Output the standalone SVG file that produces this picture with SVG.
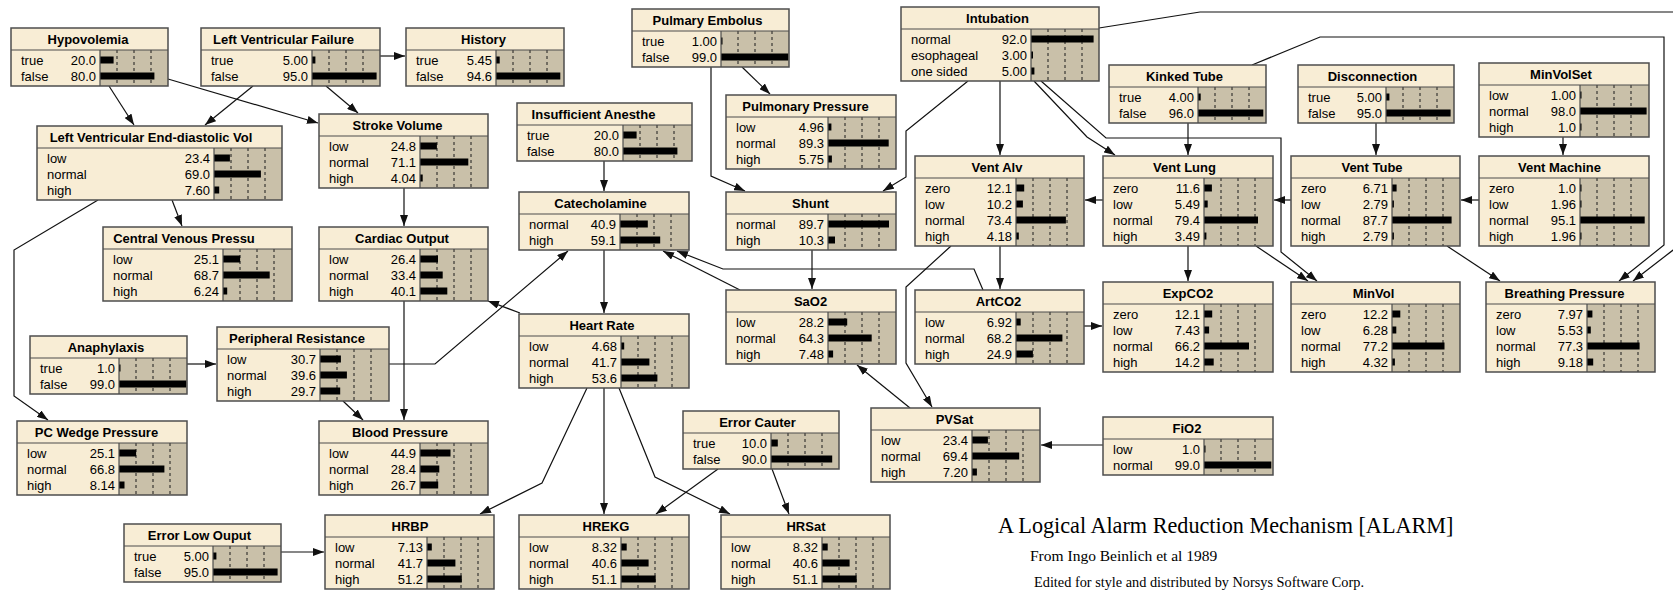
<svg xmlns="http://www.w3.org/2000/svg" width="1673" height="590" viewBox="0 0 1673 590">
<style>
.bx{fill:#f8edd5}
.ba{fill:#c9c0a9}
.fr{fill:none;stroke:#4d4d4d;stroke-width:1.5}
.ln{fill:none;stroke:#4d4d4d;stroke-width:1.2}
.ds{fill:none;stroke:#1a1a1a;stroke-width:1;stroke-dasharray:3 3}
.b{fill:#000}
text{font-family:"Liberation Sans",Arial,sans-serif;font-size:13px;fill:#000}
.t{font-weight:bold;text-anchor:middle}
.v{text-anchor:end}
.e{fill:none;stroke:#111;stroke-width:1.2;marker-end:url(#ah)}
.cap{font-family:"Liberation Serif","Times New Roman",serif}
</style>
<defs>
<marker id="ah" markerUnits="userSpaceOnUse" markerWidth="11" markerHeight="8" refX="11" refY="4" orient="auto"><path d="M0,0L11,4L0,8z" fill="#111"/></marker>
</defs>
<rect width="1673" height="590" fill="#fff"/>
<g id="connectors">
<path class="e" d="M109,86L134,125"/>
<path class="e" d="M168,79L318,123"/>
<path class="e" d="M253,86L205,125"/>
<path class="e" d="M326,86L358,113"/>
<path class="e" d="M380,56L405,56"/>
<path class="e" d="M172,200L182,226"/>
<path class="e" d="M98,200L14,250L14,396L48,420"/>
<path class="e" d="M404,188L404,226"/>
<path class="e" d="M404,301L404,420"/>
<path class="e" d="M343,401L363,420"/>
<path class="e" d="M187,364L216,364"/>
<path class="e" d="M389,364L435,364L568,251"/>
<path class="e" d="M520,313L488,301"/>
<path class="e" d="M604,161L604,191"/>
<path class="e" d="M604,250L604,313"/>
<path class="e" d="M587,388L542,483L480,514"/>
<path class="e" d="M604,388L604,514"/>
<path class="e" d="M619,388L655,477L730,514"/>
<path class="e" d="M718,469L656,514"/>
<path class="e" d="M772,469L789,514"/>
<path class="e" d="M281,552L324,552"/>
<path class="e" d="M742,67L770,94"/>
<path class="e" d="M711,67L711,176L745,191"/>
<path class="e" d="M968,81L906,131L906,177L883,191"/>
<path class="e" d="M1000,81L1000,155"/>
<path class="e" d="M1034,81L1087,137L1115,155"/>
<path class="e" d="M1041,81L1106,138L1281,138L1281,252L1317,281"/>
<path class="e" d="M1099,28L1200,12L1690,12L1690,237L1633,281"/>
<path class="e" d="M1188,123L1188,155"/>
<path class="e" d="M1252,65L1320,37L1664,37L1664,245L1619,281"/>
<path class="e" d="M1376,123L1376,155"/>
<path class="e" d="M1563,137L1563,155"/>
<path class="e" d="M1479,200L1461,200"/>
<path class="e" d="M1291,200L1274,200"/>
<path class="e" d="M1447,246L1500,281"/>
<path class="e" d="M1103,200L1085,200"/>
<path class="e" d="M1188,246L1188,281"/>
<path class="e" d="M1256,246L1308,281"/>
<path class="e" d="M1000,246L1000,289"/>
<path class="e" d="M951,246L906,287L906,363L932,407"/>
<path class="e" d="M1084,326L1102,326"/>
<path class="e" d="M983,290L974,269L723,269L677,251"/>
<path class="e" d="M740,290L663,251"/>
<path class="e" d="M812,250L812,289"/>
<path class="e" d="M910,408L857,365"/>
<path class="e" d="M1103,445L1041,445"/>
</g>

<g id="hypovolemia">
<rect class="bx" x="11" y="28" width="157" height="58"/><rect class="ba" x="100" y="50" width="68" height="36"/>
<path class="ds" d="M117,50V86M134,50V86M151,50V86"/>
<rect class="b" x="100" y="56.5" width="13.6" height="7"/><rect class="b" x="100" y="72.5" width="54.4" height="7"/>
<path class="ln" d="M11,50H168M100,50V86"/><rect class="fr" x="11" y="28" width="157" height="58"/>
<text class="t" x="88" y="44">Hypovolemia</text>
<text x="21" y="64.5">true</text><text class="v" x="96" y="64.5">20.0</text>
<text x="21" y="80.5">false</text><text class="v" x="96" y="80.5">80.0</text>
</g>

<g id="lvfailure">
<rect class="bx" x="201" y="28" width="179" height="58"/><rect class="ba" x="312" y="50" width="68" height="36"/>
<path class="ds" d="M329,50V86M346,50V86M363,50V86"/>
<rect class="b" x="312" y="56.5" width="3.4" height="7"/><rect class="b" x="312" y="72.5" width="64.6" height="7"/>
<path class="ln" d="M201,50H380M312,50V86"/><rect class="fr" x="201" y="28" width="179" height="58"/>
<text class="t" x="283.5" y="44">Left Ventricular Failure</text>
<text x="211" y="64.5">true</text><text class="v" x="308" y="64.5">5.00</text>
<text x="211" y="80.5">false</text><text class="v" x="308" y="80.5">95.0</text>
</g>

<g id="history">
<rect class="bx" x="406" y="28" width="158" height="58"/><rect class="ba" x="496" y="50" width="68" height="36"/>
<path class="ds" d="M513,50V86M530,50V86M547,50V86"/>
<rect class="b" x="496" y="56.5" width="3.7" height="7"/><rect class="b" x="496" y="72.5" width="64.3" height="7"/>
<path class="ln" d="M406,50H564M496,50V86"/><rect class="fr" x="406" y="28" width="158" height="58"/>
<text class="t" x="483.5" y="44">History</text>
<text x="416" y="64.5">true</text><text class="v" x="492" y="64.5">5.45</text>
<text x="416" y="80.5">false</text><text class="v" x="492" y="80.5">94.6</text>
</g>

<g id="pulmembolus">
<rect class="bx" x="632" y="9" width="157" height="58"/><rect class="ba" x="721" y="31" width="68" height="36"/>
<path class="ds" d="M738,31V67M755,31V67M772,31V67"/>
<rect class="b" x="721" y="37.5" width="1.5" height="7"/><rect class="b" x="721" y="53.5" width="67.3" height="7"/>
<path class="ln" d="M632,31H789M721,31V67"/><rect class="fr" x="632" y="9" width="157" height="58"/>
<text class="t" x="707.5" y="25">Pulmary Embolus</text>
<text x="642" y="45.5">true</text><text class="v" x="717" y="45.5">1.00</text>
<text x="642" y="61.5">false</text><text class="v" x="717" y="61.5">99.0</text>
</g>

<g id="intubation">
<rect class="bx" x="901" y="7" width="198" height="74"/><rect class="ba" x="1031" y="29" width="68" height="52"/>
<path class="ds" d="M1048,29V81M1065,29V81M1082,29V81"/>
<rect class="b" x="1031" y="35.5" width="62.6" height="7"/><rect class="b" x="1031" y="51.5" width="2" height="7"/><rect class="b" x="1031" y="67.5" width="3.4" height="7"/>
<path class="ln" d="M901,29H1099M1031,29V81"/><rect class="fr" x="901" y="7" width="198" height="74"/>
<text class="t" x="997.5" y="23">Intubation</text>
<text x="911" y="43.5">normal</text><text class="v" x="1027" y="43.5">92.0</text>
<text x="911" y="59.5">esophageal</text><text class="v" x="1027" y="59.5">3.00</text>
<text x="911" y="75.5">one sided</text><text class="v" x="1027" y="75.5">5.00</text>
</g>

<g id="kinkedtube">
<rect class="bx" x="1109" y="65" width="157" height="58"/><rect class="ba" x="1198" y="87" width="68" height="36"/>
<path class="ds" d="M1215,87V123M1232,87V123M1249,87V123"/>
<rect class="b" x="1198" y="93.5" width="2.7" height="7"/><rect class="b" x="1198" y="109.5" width="65.3" height="7"/>
<path class="ln" d="M1109,87H1266M1198,87V123"/><rect class="fr" x="1109" y="65" width="157" height="58"/>
<text class="t" x="1184.5" y="81">Kinked Tube</text>
<text x="1119" y="101.5">true</text><text class="v" x="1194" y="101.5">4.00</text>
<text x="1119" y="117.5">false</text><text class="v" x="1194" y="117.5">96.0</text>
</g>

<g id="disconnection">
<rect class="bx" x="1298" y="65" width="156" height="58"/><rect class="ba" x="1386" y="87" width="68" height="36"/>
<path class="ds" d="M1403,87V123M1420,87V123M1437,87V123"/>
<rect class="b" x="1386" y="93.5" width="3.4" height="7"/><rect class="b" x="1386" y="109.5" width="64.6" height="7"/>
<path class="ln" d="M1298,87H1454M1386,87V123"/><rect class="fr" x="1298" y="65" width="156" height="58"/>
<text class="t" x="1372.5" y="81">Disconnection</text>
<text x="1308" y="101.5">true</text><text class="v" x="1382" y="101.5">5.00</text>
<text x="1308" y="117.5">false</text><text class="v" x="1382" y="117.5">95.0</text>
</g>

<g id="minvolset">
<rect class="bx" x="1479" y="63" width="170" height="74"/><rect class="ba" x="1580" y="85" width="69" height="52"/>
<path class="ds" d="M1597,85V137M1614,85V137M1631,85V137"/>
<rect class="b" x="1580" y="91.5" width="1.5" height="7"/><rect class="b" x="1580" y="107.5" width="66.6" height="7"/><rect class="b" x="1580" y="123.5" width="1.5" height="7"/>
<path class="ln" d="M1479,85H1649M1580,85V137"/><rect class="fr" x="1479" y="63" width="170" height="74"/>
<text class="t" x="1561" y="79">MinVolSet</text>
<text x="1489" y="99.5">low</text><text class="v" x="1576" y="99.5">1.00</text>
<text x="1489" y="115.5">normal</text><text class="v" x="1576" y="115.5">98.0</text>
<text x="1489" y="131.5">high</text><text class="v" x="1576" y="131.5">1.0</text>
</g>

<g id="lvedvolume">
<rect class="bx" x="37" y="126" width="245" height="74"/><rect class="ba" x="214" y="148" width="68" height="52"/>
<path class="ds" d="M231,148V200M248,148V200M265,148V200"/>
<rect class="b" x="214" y="154.5" width="15.9" height="7"/><rect class="b" x="214" y="170.5" width="46.9" height="7"/><rect class="b" x="214" y="186.5" width="5.2" height="7"/>
<path class="ln" d="M37,148H282M214,148V200"/><rect class="fr" x="37" y="126" width="245" height="74"/>
<text class="t" x="151" y="142">Left Ventricular End-diastolic Vol</text>
<text x="47" y="162.5">low</text><text class="v" x="210" y="162.5">23.4</text>
<text x="47" y="178.5">normal</text><text class="v" x="210" y="178.5">69.0</text>
<text x="47" y="194.5">high</text><text class="v" x="210" y="194.5">7.60</text>
</g>

<g id="strokevolume">
<rect class="bx" x="319" y="114" width="169" height="74"/><rect class="ba" x="420" y="136" width="68" height="52"/>
<path class="ds" d="M437,136V188M454,136V188M471,136V188"/>
<rect class="b" x="420" y="142.5" width="16.9" height="7"/><rect class="b" x="420" y="158.5" width="48.3" height="7"/><rect class="b" x="420" y="174.5" width="2.7" height="7"/>
<path class="ln" d="M319,136H488M420,136V188"/><rect class="fr" x="319" y="114" width="169" height="74"/>
<text class="t" x="397.5" y="130">Stroke Volume</text>
<text x="329" y="150.5">low</text><text class="v" x="416" y="150.5">24.8</text>
<text x="329" y="166.5">normal</text><text class="v" x="416" y="166.5">71.1</text>
<text x="329" y="182.5">high</text><text class="v" x="416" y="182.5">4.04</text>
</g>

<g id="insuffanesth">
<rect class="bx" x="517" y="103" width="175" height="58"/><rect class="ba" x="623" y="125" width="69" height="36"/>
<path class="ds" d="M640,125V161M657,125V161M674,125V161"/>
<rect class="b" x="623" y="131.5" width="13.6" height="7"/><rect class="b" x="623" y="147.5" width="54.4" height="7"/>
<path class="ln" d="M517,125H692M623,125V161"/><rect class="fr" x="517" y="103" width="175" height="58"/>
<text class="t" x="593.5" y="119">Insufficient Anesthe</text>
<text x="527" y="139.5">true</text><text class="v" x="619" y="139.5">20.0</text>
<text x="527" y="155.5">false</text><text class="v" x="619" y="155.5">80.0</text>
</g>

<g id="pulmpressure">
<rect class="bx" x="726" y="95" width="170" height="74"/><rect class="ba" x="828" y="117" width="68" height="52"/>
<path class="ds" d="M845,117V169M862,117V169M879,117V169"/>
<rect class="b" x="828" y="123.5" width="3.4" height="7"/><rect class="b" x="828" y="139.5" width="60.7" height="7"/><rect class="b" x="828" y="155.5" width="3.9" height="7"/>
<path class="ln" d="M726,117H896M828,117V169"/><rect class="fr" x="726" y="95" width="170" height="74"/>
<text class="t" x="805.5" y="111">Pulmonary Pressure</text>
<text x="736" y="131.5">low</text><text class="v" x="824" y="131.5">4.96</text>
<text x="736" y="147.5">normal</text><text class="v" x="824" y="147.5">89.3</text>
<text x="736" y="163.5">high</text><text class="v" x="824" y="163.5">5.75</text>
</g>

<g id="shunt">
<rect class="bx" x="726" y="192" width="170" height="58"/><rect class="ba" x="828" y="214" width="68" height="36"/>
<path class="ds" d="M845,214V250M862,214V250M879,214V250"/>
<rect class="b" x="828" y="220.5" width="61" height="7"/><rect class="b" x="828" y="236.5" width="7" height="7"/>
<path class="ln" d="M726,214H896M828,214V250"/><rect class="fr" x="726" y="192" width="170" height="58"/>
<text class="t" x="810.5" y="208">Shunt</text>
<text x="736" y="228.5">normal</text><text class="v" x="824" y="228.5">89.7</text>
<text x="736" y="244.5">high</text><text class="v" x="824" y="244.5">10.3</text>
</g>

<g id="catecholamine">
<rect class="bx" x="519" y="192" width="170" height="58"/><rect class="ba" x="620" y="214" width="69" height="36"/>
<path class="ds" d="M637,214V250M654,214V250M671,214V250"/>
<rect class="b" x="620" y="220.5" width="27.8" height="7"/><rect class="b" x="620" y="236.5" width="40.2" height="7"/>
<path class="ln" d="M519,214H689M620,214V250"/><rect class="fr" x="519" y="192" width="170" height="58"/>
<text class="t" x="600.5" y="208">Catecholamine</text>
<text x="529" y="228.5">normal</text><text class="v" x="616" y="228.5">40.9</text>
<text x="529" y="244.5">high</text><text class="v" x="616" y="244.5">59.1</text>
</g>

<g id="cvp">
<rect class="bx" x="103" y="227" width="189" height="74"/><rect class="ba" x="223" y="249" width="69" height="52"/>
<path class="ds" d="M240,249V301M257,249V301M274,249V301"/>
<rect class="b" x="223" y="255.5" width="17.1" height="7"/><rect class="b" x="223" y="271.5" width="46.7" height="7"/><rect class="b" x="223" y="287.5" width="4.2" height="7"/>
<path class="ln" d="M103,249H292M223,249V301"/><rect class="fr" x="103" y="227" width="189" height="74"/>
<text class="t" x="184" y="243">Central Venous Pressu</text>
<text x="113" y="263.5">low</text><text class="v" x="219" y="263.5">25.1</text>
<text x="113" y="279.5">normal</text><text class="v" x="219" y="279.5">68.7</text>
<text x="113" y="295.5">high</text><text class="v" x="219" y="295.5">6.24</text>
</g>

<g id="cardiacoutput">
<rect class="bx" x="319" y="227" width="169" height="74"/><rect class="ba" x="420" y="249" width="68" height="52"/>
<path class="ds" d="M437,249V301M454,249V301M471,249V301"/>
<rect class="b" x="420" y="255.5" width="18" height="7"/><rect class="b" x="420" y="271.5" width="22.7" height="7"/><rect class="b" x="420" y="287.5" width="27.3" height="7"/>
<path class="ln" d="M319,249H488M420,249V301"/><rect class="fr" x="319" y="227" width="169" height="74"/>
<text class="t" x="402" y="243">Cardiac Output</text>
<text x="329" y="263.5">low</text><text class="v" x="416" y="263.5">26.4</text>
<text x="329" y="279.5">normal</text><text class="v" x="416" y="279.5">33.4</text>
<text x="329" y="295.5">high</text><text class="v" x="416" y="295.5">40.1</text>
</g>

<g id="ventalv">
<rect class="bx" x="915" y="156" width="169" height="90"/><rect class="ba" x="1016" y="178" width="68" height="68"/>
<path class="ds" d="M1033,178V246M1050,178V246M1067,178V246"/>
<rect class="b" x="1016" y="184.5" width="8.2" height="7"/><rect class="b" x="1016" y="200.5" width="6.9" height="7"/><rect class="b" x="1016" y="216.5" width="49.9" height="7"/><rect class="b" x="1016" y="232.5" width="2.8" height="7"/>
<path class="ln" d="M915,178H1084M1016,178V246"/><rect class="fr" x="915" y="156" width="169" height="90"/>
<text class="t" x="997" y="172">Vent Alv</text>
<text x="925" y="192.5">zero</text><text class="v" x="1012" y="192.5">12.1</text>
<text x="925" y="208.5">low</text><text class="v" x="1012" y="208.5">10.2</text>
<text x="925" y="224.5">normal</text><text class="v" x="1012" y="224.5">73.4</text>
<text x="925" y="240.5">high</text><text class="v" x="1012" y="240.5">4.18</text>
</g>

<g id="ventlung">
<rect class="bx" x="1103" y="156" width="170" height="90"/><rect class="ba" x="1204" y="178" width="69" height="68"/>
<path class="ds" d="M1221,178V246M1238,178V246M1255,178V246"/>
<rect class="b" x="1204" y="184.5" width="7.9" height="7"/><rect class="b" x="1204" y="200.5" width="3.7" height="7"/><rect class="b" x="1204" y="216.5" width="54" height="7"/><rect class="b" x="1204" y="232.5" width="2.4" height="7"/>
<path class="ln" d="M1103,178H1273M1204,178V246"/><rect class="fr" x="1103" y="156" width="170" height="90"/>
<text class="t" x="1184.5" y="172">Vent Lung</text>
<text x="1113" y="192.5">zero</text><text class="v" x="1200" y="192.5">11.6</text>
<text x="1113" y="208.5">low</text><text class="v" x="1200" y="208.5">5.49</text>
<text x="1113" y="224.5">normal</text><text class="v" x="1200" y="224.5">79.4</text>
<text x="1113" y="240.5">high</text><text class="v" x="1200" y="240.5">3.49</text>
</g>

<g id="venttube">
<rect class="bx" x="1291" y="156" width="169" height="90"/><rect class="ba" x="1392" y="178" width="68" height="68"/>
<path class="ds" d="M1409,178V246M1426,178V246M1443,178V246"/>
<rect class="b" x="1392" y="184.5" width="4.6" height="7"/><rect class="b" x="1392" y="200.5" width="1.9" height="7"/><rect class="b" x="1392" y="216.5" width="59.6" height="7"/><rect class="b" x="1392" y="232.5" width="1.9" height="7"/>
<path class="ln" d="M1291,178H1460M1392,178V246"/><rect class="fr" x="1291" y="156" width="169" height="90"/>
<text class="t" x="1372" y="172">Vent Tube</text>
<text x="1301" y="192.5">zero</text><text class="v" x="1388" y="192.5">6.71</text>
<text x="1301" y="208.5">low</text><text class="v" x="1388" y="208.5">2.79</text>
<text x="1301" y="224.5">normal</text><text class="v" x="1388" y="224.5">87.7</text>
<text x="1301" y="240.5">high</text><text class="v" x="1388" y="240.5">2.79</text>
</g>

<g id="ventmachine">
<rect class="bx" x="1479" y="156" width="170" height="90"/><rect class="ba" x="1580" y="178" width="69" height="68"/>
<path class="ds" d="M1597,178V246M1614,178V246M1631,178V246"/>
<rect class="b" x="1580" y="184.5" width="1.5" height="7"/><rect class="b" x="1580" y="200.5" width="1.5" height="7"/><rect class="b" x="1580" y="216.5" width="64.7" height="7"/><rect class="b" x="1580" y="232.5" width="1.5" height="7"/>
<path class="ln" d="M1479,178H1649M1580,178V246"/><rect class="fr" x="1479" y="156" width="170" height="90"/>
<text class="t" x="1559.5" y="172">Vent Machine</text>
<text x="1489" y="192.5">zero</text><text class="v" x="1576" y="192.5">1.0</text>
<text x="1489" y="208.5">low</text><text class="v" x="1576" y="208.5">1.96</text>
<text x="1489" y="224.5">normal</text><text class="v" x="1576" y="224.5">95.1</text>
<text x="1489" y="240.5">high</text><text class="v" x="1576" y="240.5">1.96</text>
</g>

<g id="sao2">
<rect class="bx" x="726" y="290" width="170" height="74"/><rect class="ba" x="828" y="312" width="68" height="52"/>
<path class="ds" d="M845,312V364M862,312V364M879,312V364"/>
<rect class="b" x="828" y="318.5" width="19.2" height="7"/><rect class="b" x="828" y="334.5" width="43.7" height="7"/><rect class="b" x="828" y="350.5" width="5.1" height="7"/>
<path class="ln" d="M726,312H896M828,312V364"/><rect class="fr" x="726" y="290" width="170" height="74"/>
<text class="t" x="810.5" y="306">SaO2</text>
<text x="736" y="326.5">low</text><text class="v" x="824" y="326.5">28.2</text>
<text x="736" y="342.5">normal</text><text class="v" x="824" y="342.5">64.3</text>
<text x="736" y="358.5">high</text><text class="v" x="824" y="358.5">7.48</text>
</g>

<g id="artco2">
<rect class="bx" x="915" y="290" width="169" height="74"/><rect class="ba" x="1016" y="312" width="68" height="52"/>
<path class="ds" d="M1033,312V364M1050,312V364M1067,312V364"/>
<rect class="b" x="1016" y="318.5" width="4.7" height="7"/><rect class="b" x="1016" y="334.5" width="46.4" height="7"/><rect class="b" x="1016" y="350.5" width="16.9" height="7"/>
<path class="ln" d="M915,312H1084M1016,312V364"/><rect class="fr" x="915" y="290" width="169" height="74"/>
<text class="t" x="998.5" y="306">ArtCO2</text>
<text x="925" y="326.5">low</text><text class="v" x="1012" y="326.5">6.92</text>
<text x="925" y="342.5">normal</text><text class="v" x="1012" y="342.5">68.2</text>
<text x="925" y="358.5">high</text><text class="v" x="1012" y="358.5">24.9</text>
</g>

<g id="expco2">
<rect class="bx" x="1103" y="282" width="170" height="90"/><rect class="ba" x="1204" y="304" width="69" height="68"/>
<path class="ds" d="M1221,304V372M1238,304V372M1255,304V372"/>
<rect class="b" x="1204" y="310.5" width="8.2" height="7"/><rect class="b" x="1204" y="326.5" width="5.1" height="7"/><rect class="b" x="1204" y="342.5" width="45" height="7"/><rect class="b" x="1204" y="358.5" width="9.7" height="7"/>
<path class="ln" d="M1103,304H1273M1204,304V372"/><rect class="fr" x="1103" y="282" width="170" height="90"/>
<text class="t" x="1188" y="298">ExpCO2</text>
<text x="1113" y="318.5">zero</text><text class="v" x="1200" y="318.5">12.1</text>
<text x="1113" y="334.5">low</text><text class="v" x="1200" y="334.5">7.43</text>
<text x="1113" y="350.5">normal</text><text class="v" x="1200" y="350.5">66.2</text>
<text x="1113" y="366.5">high</text><text class="v" x="1200" y="366.5">14.2</text>
</g>

<g id="minvol">
<rect class="bx" x="1291" y="282" width="169" height="90"/><rect class="ba" x="1392" y="304" width="68" height="68"/>
<path class="ds" d="M1409,304V372M1426,304V372M1443,304V372"/>
<rect class="b" x="1392" y="310.5" width="8.3" height="7"/><rect class="b" x="1392" y="326.5" width="4.3" height="7"/><rect class="b" x="1392" y="342.5" width="52.5" height="7"/><rect class="b" x="1392" y="358.5" width="2.9" height="7"/>
<path class="ln" d="M1291,304H1460M1392,304V372"/><rect class="fr" x="1291" y="282" width="169" height="90"/>
<text class="t" x="1373.5" y="298">MinVol</text>
<text x="1301" y="318.5">zero</text><text class="v" x="1388" y="318.5">12.2</text>
<text x="1301" y="334.5">low</text><text class="v" x="1388" y="334.5">6.28</text>
<text x="1301" y="350.5">normal</text><text class="v" x="1388" y="350.5">77.2</text>
<text x="1301" y="366.5">high</text><text class="v" x="1388" y="366.5">4.32</text>
</g>

<g id="breathingpressure">
<rect class="bx" x="1486" y="282" width="169" height="90"/><rect class="ba" x="1587" y="304" width="68" height="68"/>
<path class="ds" d="M1604,304V372M1621,304V372M1638,304V372"/>
<rect class="b" x="1587" y="310.5" width="5.4" height="7"/><rect class="b" x="1587" y="326.5" width="3.8" height="7"/><rect class="b" x="1587" y="342.5" width="52.6" height="7"/><rect class="b" x="1587" y="358.5" width="6.2" height="7"/>
<path class="ln" d="M1486,304H1655M1587,304V372"/><rect class="fr" x="1486" y="282" width="169" height="90"/>
<text class="t" x="1564.5" y="298">Breathing Pressure</text>
<text x="1496" y="318.5">zero</text><text class="v" x="1583" y="318.5">7.97</text>
<text x="1496" y="334.5">low</text><text class="v" x="1583" y="334.5">5.53</text>
<text x="1496" y="350.5">normal</text><text class="v" x="1583" y="350.5">77.3</text>
<text x="1496" y="366.5">high</text><text class="v" x="1583" y="366.5">9.18</text>
</g>

<g id="heartrate">
<rect class="bx" x="519" y="314" width="170" height="74"/><rect class="ba" x="621" y="336" width="68" height="52"/>
<path class="ds" d="M638,336V388M655,336V388M672,336V388"/>
<rect class="b" x="621" y="342.5" width="3.2" height="7"/><rect class="b" x="621" y="358.5" width="28.4" height="7"/><rect class="b" x="621" y="374.5" width="36.4" height="7"/>
<path class="ln" d="M519,336H689M621,336V388"/><rect class="fr" x="519" y="314" width="170" height="74"/>
<text class="t" x="602" y="330">Heart Rate</text>
<text x="529" y="350.5">low</text><text class="v" x="617" y="350.5">4.68</text>
<text x="529" y="366.5">normal</text><text class="v" x="617" y="366.5">41.7</text>
<text x="529" y="382.5">high</text><text class="v" x="617" y="382.5">53.6</text>
</g>

<g id="anaphylaxis">
<rect class="bx" x="30" y="336" width="157" height="58"/><rect class="ba" x="119" y="358" width="68" height="36"/>
<path class="ds" d="M136,358V394M153,358V394M170,358V394"/>
<rect class="b" x="119" y="364.5" width="1.5" height="7"/><rect class="b" x="119" y="380.5" width="67.3" height="7"/>
<path class="ln" d="M30,358H187M119,358V394"/><rect class="fr" x="30" y="336" width="157" height="58"/>
<text class="t" x="106" y="352">Anaphylaxis</text>
<text x="40" y="372.5">true</text><text class="v" x="115" y="372.5">1.0</text>
<text x="40" y="388.5">false</text><text class="v" x="115" y="388.5">99.0</text>
</g>

<g id="periphresistance">
<rect class="bx" x="217" y="327" width="172" height="74"/><rect class="ba" x="320" y="349" width="69" height="52"/>
<path class="ds" d="M337,349V401M354,349V401M371,349V401"/>
<rect class="b" x="320" y="355.5" width="20.9" height="7"/><rect class="b" x="320" y="371.5" width="26.9" height="7"/><rect class="b" x="320" y="387.5" width="20.2" height="7"/>
<path class="ln" d="M217,349H389M320,349V401"/><rect class="fr" x="217" y="327" width="172" height="74"/>
<text class="t" x="297" y="343">Peripheral Resistance</text>
<text x="227" y="363.5">low</text><text class="v" x="316" y="363.5">30.7</text>
<text x="227" y="379.5">normal</text><text class="v" x="316" y="379.5">39.6</text>
<text x="227" y="395.5">high</text><text class="v" x="316" y="395.5">29.7</text>
</g>

<g id="pvsat">
<rect class="bx" x="871" y="408" width="169" height="74"/><rect class="ba" x="972" y="430" width="68" height="52"/>
<path class="ds" d="M989,430V482M1006,430V482M1023,430V482"/>
<rect class="b" x="972" y="436.5" width="15.9" height="7"/><rect class="b" x="972" y="452.5" width="47.2" height="7"/><rect class="b" x="972" y="468.5" width="4.9" height="7"/>
<path class="ln" d="M871,430H1040M972,430V482"/><rect class="fr" x="871" y="408" width="169" height="74"/>
<text class="t" x="954.5" y="424">PVSat</text>
<text x="881" y="444.5">low</text><text class="v" x="968" y="444.5">23.4</text>
<text x="881" y="460.5">normal</text><text class="v" x="968" y="460.5">69.4</text>
<text x="881" y="476.5">high</text><text class="v" x="968" y="476.5">7.20</text>
</g>

<g id="errorcauter">
<rect class="bx" x="683" y="411" width="156" height="58"/><rect class="ba" x="771" y="433" width="68" height="36"/>
<path class="ds" d="M788,433V469M805,433V469M822,433V469"/>
<rect class="b" x="771" y="439.5" width="6.8" height="7"/><rect class="b" x="771" y="455.5" width="61.2" height="7"/>
<path class="ln" d="M683,433H839M771,433V469"/><rect class="fr" x="683" y="411" width="156" height="58"/>
<text class="t" x="757.5" y="427">Error Cauter</text>
<text x="693" y="447.5">true</text><text class="v" x="767" y="447.5">10.0</text>
<text x="693" y="463.5">false</text><text class="v" x="767" y="463.5">90.0</text>
</g>

<g id="fio2">
<rect class="bx" x="1103" y="417" width="170" height="58"/><rect class="ba" x="1204" y="439" width="69" height="36"/>
<path class="ds" d="M1221,439V475M1238,439V475M1255,439V475"/>
<rect class="b" x="1204" y="445.5" width="1.5" height="7"/><rect class="b" x="1204" y="461.5" width="67.3" height="7"/>
<path class="ln" d="M1103,439H1273M1204,439V475"/><rect class="fr" x="1103" y="417" width="170" height="58"/>
<text class="t" x="1187" y="433">FiO2</text>
<text x="1113" y="453.5">low</text><text class="v" x="1200" y="453.5">1.0</text>
<text x="1113" y="469.5">normal</text><text class="v" x="1200" y="469.5">99.0</text>
</g>

<g id="pcwp">
<rect class="bx" x="17" y="421" width="170" height="74"/><rect class="ba" x="119" y="443" width="68" height="52"/>
<path class="ds" d="M136,443V495M153,443V495M170,443V495"/>
<rect class="b" x="119" y="449.5" width="17.1" height="7"/><rect class="b" x="119" y="465.5" width="45.4" height="7"/><rect class="b" x="119" y="481.5" width="5.5" height="7"/>
<path class="ln" d="M17,443H187M119,443V495"/><rect class="fr" x="17" y="421" width="170" height="74"/>
<text class="t" x="96.5" y="437">PC Wedge Pressure</text>
<text x="27" y="457.5">low</text><text class="v" x="115" y="457.5">25.1</text>
<text x="27" y="473.5">normal</text><text class="v" x="115" y="473.5">66.8</text>
<text x="27" y="489.5">high</text><text class="v" x="115" y="489.5">8.14</text>
</g>

<g id="bloodpressure">
<rect class="bx" x="319" y="421" width="169" height="74"/><rect class="ba" x="420" y="443" width="68" height="52"/>
<path class="ds" d="M437,443V495M454,443V495M471,443V495"/>
<rect class="b" x="420" y="449.5" width="30.5" height="7"/><rect class="b" x="420" y="465.5" width="19.3" height="7"/><rect class="b" x="420" y="481.5" width="18.2" height="7"/>
<path class="ln" d="M319,443H488M420,443V495"/><rect class="fr" x="319" y="421" width="169" height="74"/>
<text class="t" x="400" y="437">Blood Pressure</text>
<text x="329" y="457.5">low</text><text class="v" x="416" y="457.5">44.9</text>
<text x="329" y="473.5">normal</text><text class="v" x="416" y="473.5">28.4</text>
<text x="329" y="489.5">high</text><text class="v" x="416" y="489.5">26.7</text>
</g>

<g id="errorlowoutput">
<rect class="bx" x="124" y="524" width="157" height="58"/><rect class="ba" x="213" y="546" width="68" height="36"/>
<path class="ds" d="M230,546V582M247,546V582M264,546V582"/>
<rect class="b" x="213" y="552.5" width="3.4" height="7"/><rect class="b" x="213" y="568.5" width="64.6" height="7"/>
<path class="ln" d="M124,546H281M213,546V582"/><rect class="fr" x="124" y="524" width="157" height="58"/>
<text class="t" x="199.5" y="540">Error Low Ouput</text>
<text x="134" y="560.5">true</text><text class="v" x="209" y="560.5">5.00</text>
<text x="134" y="576.5">false</text><text class="v" x="209" y="576.5">95.0</text>
</g>

<g id="hrbp">
<rect class="bx" x="325" y="515" width="169" height="74"/><rect class="ba" x="427" y="537" width="67" height="52"/>
<path class="ds" d="M444,537V589M461,537V589M478,537V589"/>
<rect class="b" x="427" y="543.5" width="4.8" height="7"/><rect class="b" x="427" y="559.5" width="28.4" height="7"/><rect class="b" x="427" y="575.5" width="34.8" height="7"/>
<path class="ln" d="M325,537H494M427,537V589"/><rect class="fr" x="325" y="515" width="169" height="74"/>
<text class="t" x="410" y="531">HRBP</text>
<text x="335" y="551.5">low</text><text class="v" x="423" y="551.5">7.13</text>
<text x="335" y="567.5">normal</text><text class="v" x="423" y="567.5">41.7</text>
<text x="335" y="583.5">high</text><text class="v" x="423" y="583.5">51.2</text>
</g>

<g id="hrekg">
<rect class="bx" x="519" y="515" width="170" height="74"/><rect class="ba" x="621" y="537" width="68" height="52"/>
<path class="ds" d="M638,537V589M655,537V589M672,537V589"/>
<rect class="b" x="621" y="543.5" width="5.7" height="7"/><rect class="b" x="621" y="559.5" width="27.6" height="7"/><rect class="b" x="621" y="575.5" width="34.7" height="7"/>
<path class="ln" d="M519,537H689M621,537V589"/><rect class="fr" x="519" y="515" width="170" height="74"/>
<text class="t" x="606" y="531">HREKG</text>
<text x="529" y="551.5">low</text><text class="v" x="617" y="551.5">8.32</text>
<text x="529" y="567.5">normal</text><text class="v" x="617" y="567.5">40.6</text>
<text x="529" y="583.5">high</text><text class="v" x="617" y="583.5">51.1</text>
</g>

<g id="hrsat">
<rect class="bx" x="721" y="515" width="169" height="74"/><rect class="ba" x="822" y="537" width="68" height="52"/>
<path class="ds" d="M839,537V589M856,537V589M873,537V589"/>
<rect class="b" x="822" y="543.5" width="5.7" height="7"/><rect class="b" x="822" y="559.5" width="27.6" height="7"/><rect class="b" x="822" y="575.5" width="34.7" height="7"/>
<path class="ln" d="M721,537H890M822,537V589"/><rect class="fr" x="721" y="515" width="169" height="74"/>
<text class="t" x="806" y="531">HRSat</text>
<text x="731" y="551.5">low</text><text class="v" x="818" y="551.5">8.32</text>
<text x="731" y="567.5">normal</text><text class="v" x="818" y="567.5">40.6</text>
<text x="731" y="583.5">high</text><text class="v" x="818" y="583.5">51.1</text>
</g>

<g id="caption">
<text class="cap" x="998" y="533" style="font-size:22.2px">A Logical Alarm Reduction Mechanism [ALARM]</text>
<text class="cap" x="1030" y="561" style="font-size:15.5px">From Ingo Beinlich et al 1989</text>
<text class="cap" x="1034" y="587" style="font-size:14.3px">Edited for style and distributed by Norsys Software Corp.</text>
</g>
</svg>
